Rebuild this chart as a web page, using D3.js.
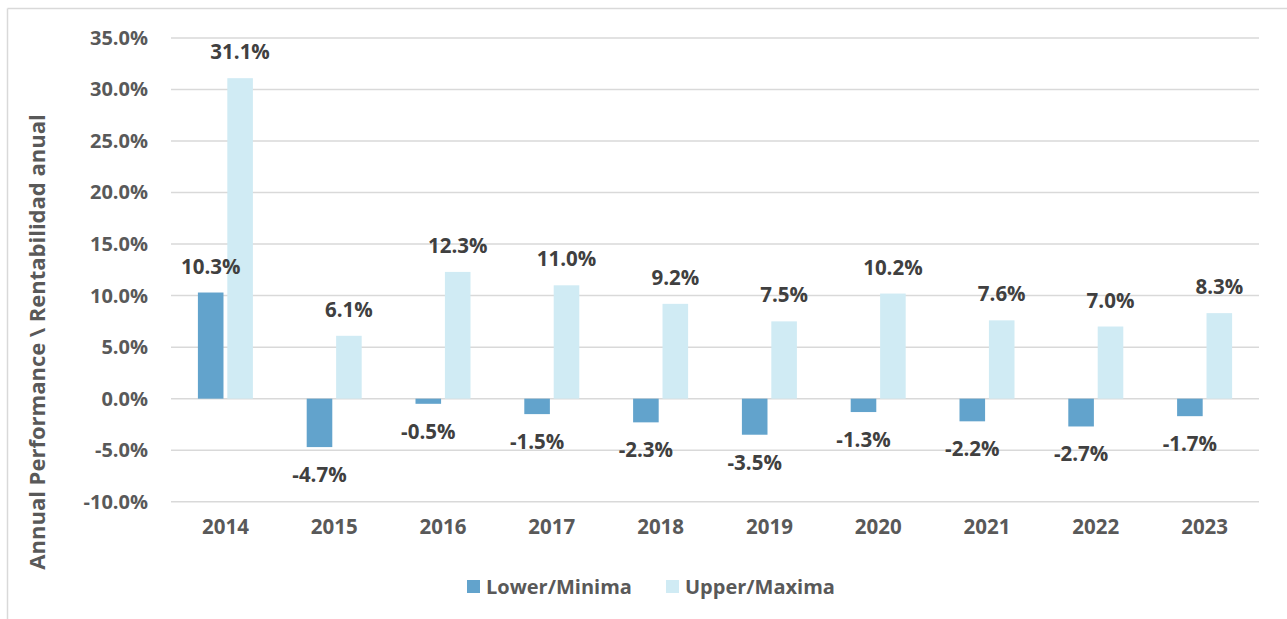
<!DOCTYPE html>
<html>
<head>
<meta charset="utf-8">
<title>Annual Performance</title>
<script src="https://d3js.org/d3.v7.min.js"></script>
<style>
  body { margin: 0; background: #fff; }
  text { font-family: "Open Sans", sans-serif; font-weight: bold; }
</style>
</head>
<body>
<svg width="1287" height="619"></svg>
<script>
// data
var years = ["2014", "2015", "2016", "2017", "2018", "2019", "2020", "2021", "2022", "2023"];
var lower = [10.3, -4.7, -0.5, -1.5, -2.3, -3.5, -1.3, -2.2, -2.7, -1.7];
var upper = [31.1, 6.1, 12.3, 11.0, 9.2, 7.5, 10.2, 7.6, 7.0, 8.3];
var yTicks = [-10, -5, 0, 5, 10, 15, 20, 25, 30, 35];
var seriesNames = ["Lower/Minima", "Upper/Maxima"];

var colors = ["#62a3cc", "#d0ebf4"];

var svg = d3.select("svg");

// outer frame (top and left edge only are visible)
svg.append("line").attr("x1", 7.5).attr("x2", 1287).attr("y1", 8.5).attr("y2", 8.5)
    .attr("stroke", "#d9d9d9").attr("stroke-width", 1.5);
svg.append("line").attr("x1", 7.5).attr("x2", 7.5).attr("y1", 8.5).attr("y2", 619)
    .attr("stroke", "#d9d9d9").attr("stroke-width", 1.5);

var x = d3.scaleBand()
    .domain(years)
    .range([171, 1259]);

var sub = d3.scaleBand()
    .domain(seriesNames)
    .range([x.bandwidth() / 2 - 27.5, x.bandwidth() / 2 + 27.5])
    .paddingInner(0.13);

var y = d3.scaleLinear()
    .domain([-10, 35])
    .range([501.7, 38]);

// gridlines + y tick labels
var yAxis = svg.append("g")
    .attr("transform", "translate(171,0)")
    .call(d3.axisLeft(y).tickValues(yTicks).tickSize(0).tickPadding(23)
        .tickFormat(function(d) { return d.toFixed(1) + "%"; }));
yAxis.select(".domain").remove();
yAxis.selectAll("text")
    .attr("fill", "#595959")
    .style("font-size", "20px")
    .style("font-family", "Open Sans, sans-serif")
    .style("font-weight", "bold");

svg.append("g").selectAll("line")
    .data(yTicks)
    .enter().append("line")
    .attr("x1", 171).attr("x2", 1259)
    .attr("y1", function(d) { return y(d); })
    .attr("y2", function(d) { return y(d); })
    .attr("stroke", "#d9d9d9")
    .attr("stroke-width", 1.5);

// x labels
var xAxis = svg.append("g")
    .attr("transform", "translate(0," + 519 + ")")
    .call(d3.axisBottom(x).tickSize(0).tickPadding(0));
xAxis.select(".domain").remove();
xAxis.selectAll("text")
    .attr("fill", "#595959")
    .attr("dy", "0.71em")
    .style("font-size", "20.5px")
    .style("font-family", "Open Sans, sans-serif")
    .style("font-weight", "bold");

// bars
var rows = years.map(function(yr, i) {
  return { year: yr, values: [
    { name: seriesNames[0], v: lower[i] },
    { name: seriesNames[1], v: upper[i] }
  ]};
});

var groups = svg.append("g").selectAll("g")
    .data(rows)
    .enter().append("g")
    .attr("transform", function(d) { return "translate(" + x(d.year) + ",0)"; });

groups.selectAll("rect")
    .data(function(d) { return d.values; })
    .enter().append("rect")
    .attr("x", function(d) { return sub(d.name); })
    .attr("width", sub.bandwidth())
    .attr("y", function(d) { return y(Math.max(0, d.v)); })
    .attr("height", function(d) { return Math.abs(y(d.v) - y(0)); })
    .attr("fill", function(d, i) { return colors[i]; });

groups.selectAll("text")
    .data(function(d) { return d.values; })
    .enter().append("text")
    .attr("x", function(d) { return sub(d.name) + sub.bandwidth() / 2; })
    .attr("y", function(d) { return d.v >= 0 ? y(d.v) - 19 : y(d.v) + 35; })
    .attr("text-anchor", "middle")
    .attr("fill", "#404040")
    .style("font-size", "20.5px")
    .text(function(d) { return d.v.toFixed(1) + "%"; });

// y axis title
svg.append("text")
    .attr("transform", "translate(45,342) rotate(-90)")
    .attr("text-anchor", "middle")
    .attr("fill", "#595959")
    .style("font-size", "22px")
    .text("Annual Performance \\ Rentabilidad anual");

// legend
var legend = svg.append("g").selectAll("g")
    .data(seriesNames)
    .enter().append("g")
    .attr("transform", function(d, i) { return "translate(" + [467, 666][i] + ",580)"; });
legend.append("rect")
    .attr("width", 13).attr("height", 13)
    .attr("fill", function(d, i) { return colors[i]; });
legend.append("text")
    .attr("x", 19).attr("y", 14)
    .attr("fill", "#595959")
    .style("font-size", "20px")
    .text(function(d) { return d; });
</script>
</body>
</html>
